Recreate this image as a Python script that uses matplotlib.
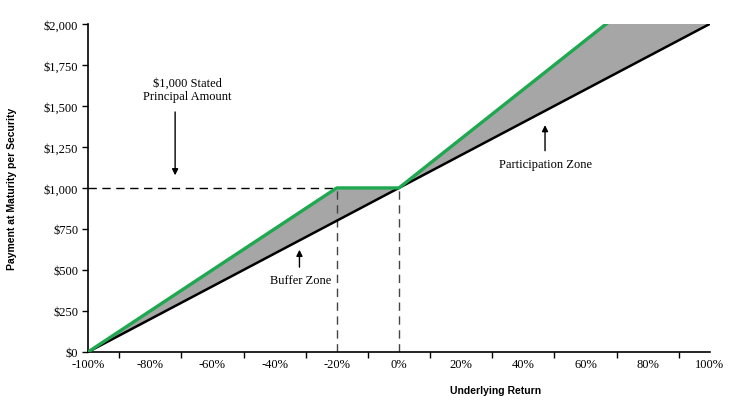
import matplotlib
matplotlib.use("Agg")
import matplotlib.pyplot as plt
import numpy as np
from matplotlib.ticker import FuncFormatter, MultipleLocator

# Data
returns = [-100, -20, 0, 100]              # underlying return (%)
security_payment = [0, 1000, 1000, 2500]   # payment at maturity (clipped by axis at $2,000)
underlying_x = [-100, 100]
underlying_payment = [0, 2000]
x_ticks = [-100, -80, -60, -40, -20, 0, 20, 40, 60, 80, 100]
y_ticks = [0, 250, 500, 750, 1000, 1250, 1500, 1750, 2000]

serif = ["Liberation Serif", "DejaVu Serif"]
sans = ["Liberation Sans", "DejaVu Sans"]

fig = plt.figure(figsize=(7.34, 4.02), dpi=100)
ax = fig.add_axes([0.12, 0.122, 0.847, 0.816])

xs = np.linspace(-100, 100, 401)
sec = np.interp(xs, returns, security_payment)
und = np.interp(xs, underlying_x, underlying_payment)
ax.fill_between(xs, und, sec, color="#a6a6a6", lw=0, zorder=1)
ax.plot(underlying_x, underlying_payment, color="black", lw=1.8, zorder=3)
ax.plot(returns, security_payment, color="#1ea84f", lw=2.4, zorder=4, clip_on=True)

# dashed reference lines
ax.plot([-100, -20], [1000, 1000], color="black", lw=1, ls=(0, (6, 4)), zorder=2)
ax.plot([-20, -20], [0, 1000], color="#444444", lw=1, ls=(0, (6, 4)), zorder=2)
ax.plot([0, 0], [0, 1000], color="#444444", lw=1, ls=(0, (6, 4)), zorder=2)

ax.set_xlim(-100, 100)
ax.set_ylim(0, 2000)
ax.set_xticks(x_ticks)
ax.xaxis.set_minor_locator(MultipleLocator(10))
ax.set_yticks(y_ticks)
ax.xaxis.set_major_formatter(FuncFormatter(lambda v, p: f"{int(round(v))}%"))
ax.yaxis.set_major_formatter(FuncFormatter(lambda v, p: f"${int(round(v)):,}"))
for s in ["top", "right"]:
    ax.spines[s].set_visible(False)
for s in ["left", "bottom"]:
    ax.spines[s].set_linewidth(1.2)
ax.tick_params(axis="x", which="both", direction="out", length=4, width=1, pad=4)
ax.tick_params(axis="x", which="major", length=0)
ax.tick_params(axis="y", direction="out", length=4, width=1, pad=3)
for lab in ax.get_xticklabels() + ax.get_yticklabels():
    lab.set_fontfamily(serif)
    lab.set_fontsize(9)

ax.set_ylabel("Payment at Maturity per Security", fontsize=7.5, fontweight="bold",
              family=sans, labelpad=19)
ax.set_xlabel("Underlying Return", fontsize=7.5, fontweight="bold", family=sans)
ax.xaxis.set_label_coords(0.655, -0.1)

arrow = dict(arrowstyle="-|>", color="black", lw=1, mutation_scale=9)
ax.annotate("", xy=(-72, 1060), xytext=(-72, 1480), arrowprops=arrow)
ax.text(-68, 1600, "$1,000 Stated\nPrincipal Amount", ha="center", va="center",
        fontsize=9, family=serif, linespacing=1.1)

ax.annotate("", xy=(-32, 640), xytext=(-32, 500), arrowprops=arrow)
ax.text(-31.5, 440, "Buffer Zone", ha="center", va="center", fontsize=9, family=serif)

ax.annotate("", xy=(47, 1400), xytext=(47, 1210), arrowprops=arrow)
ax.text(47, 1146, "Participation Zone", ha="center", va="center", fontsize=9, family=serif)

fig.savefig("out.png", dpi=100)
